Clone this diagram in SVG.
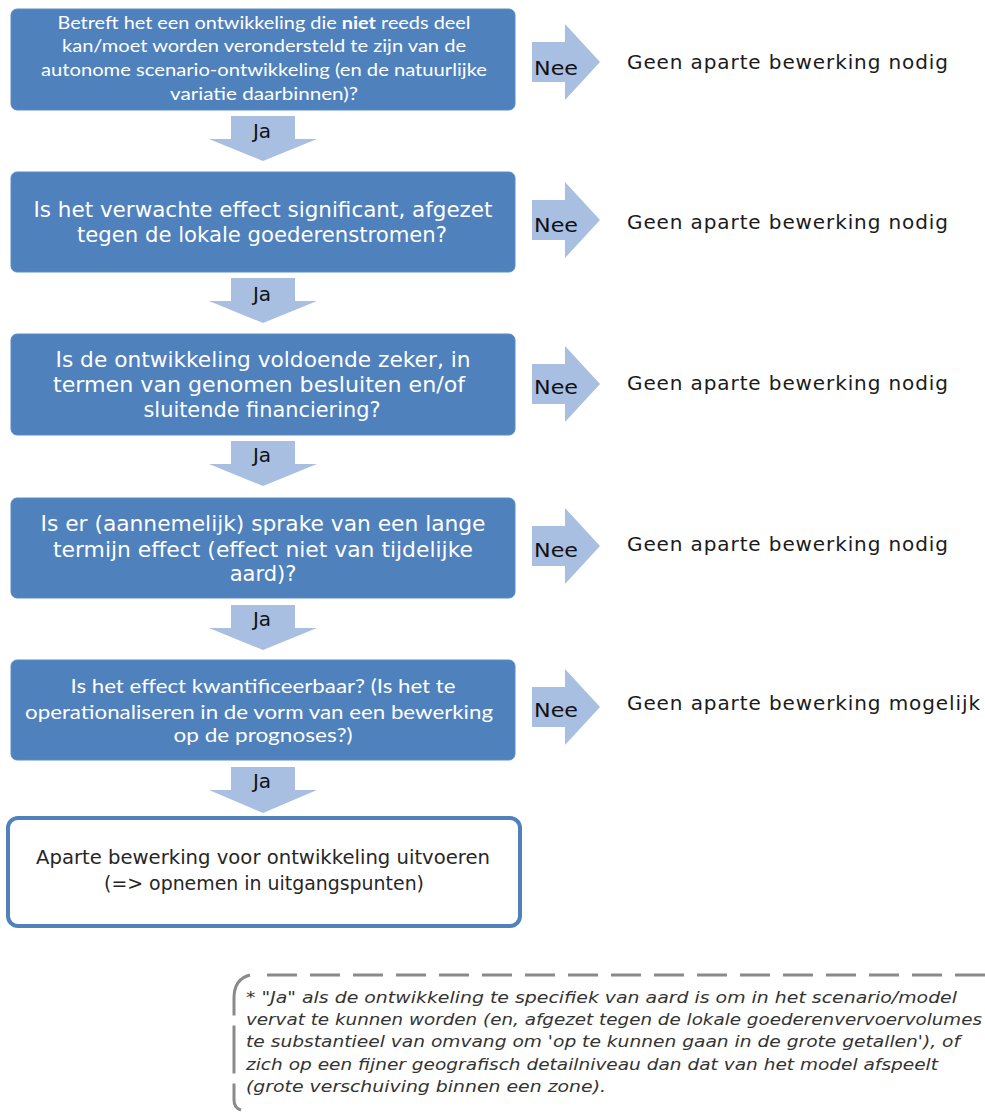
<svg xmlns="http://www.w3.org/2000/svg" width="985" height="1113" viewBox="0 0 985 1113">
<style>
.box{fill:#4f81bd;stroke:#5b8cc6;stroke-width:1}
.bt{font-family:"DejaVu Sans",Verdana,sans-serif;font-size:21px;fill:#ffffff;text-anchor:middle}
.bc{font-family:Lato,"DejaVu Sans",sans-serif;fill:#ffffff;text-anchor:middle}
.arr{fill:#a8bfe1}
.lbl{font-family:"DejaVu Sans",Verdana,sans-serif;font-size:20px;fill:#111}
.res{font-family:"DejaVu Sans",Verdana,sans-serif;font-size:20px;fill:#1a1a1a}
.fin{fill:#ffffff;stroke:#4f81bd;stroke-width:4}
.ft{font-family:"DejaVu Sans",Verdana,sans-serif;font-size:19.5px;fill:#262626;text-anchor:middle}
.note{font-family:"DejaVu Sans",Verdana,sans-serif;font-style:italic;font-size:16.5px;fill:#333}
</style>
<rect width="985" height="1113" fill="#ffffff"/>
<g id="q1">
<rect class="box" x="11" y="9" width="504" height="101" rx="6"/>
<text class="bc" font-size="17"><tspan x="264" y="29" textLength="413" lengthAdjust="spacingAndGlyphs">Betreft het een ontwikkeling die <tspan font-weight="bold">niet</tspan> reeds deel</tspan><tspan x="264" y="52" textLength="404" lengthAdjust="spacingAndGlyphs">kan/moet worden verondersteld te zijn van de</tspan><tspan x="264" y="76" textLength="446" lengthAdjust="spacingAndGlyphs">autonome scenario-ontwikkeling (en de natuurlijke</tspan><tspan x="264" y="100" textLength="188" lengthAdjust="spacingAndGlyphs">variatie daarbinnen)?</tspan></text>
</g>
<g id="q2">
<rect class="box" x="11" y="172" width="504" height="100" rx="6"/>
<text class="bt"><tspan x="263" y="217" textLength="459" lengthAdjust="spacingAndGlyphs">Is het verwachte effect significant, afgezet</tspan><tspan x="262" y="242" textLength="370" lengthAdjust="spacingAndGlyphs">tegen de lokale goederenstromen?</tspan></text>
</g>
<g id="q3">
<rect class="box" x="11" y="334" width="504" height="101" rx="6"/>
<text class="bt"><tspan x="263" y="367" textLength="415" lengthAdjust="spacingAndGlyphs">Is de ontwikkeling voldoende zeker, in</tspan><tspan x="259" y="392" textLength="412" lengthAdjust="spacingAndGlyphs">termen van genomen besluiten en/of</tspan><tspan x="262" y="417" textLength="237" lengthAdjust="spacingAndGlyphs">sluitende financiering?</tspan></text>
</g>
<g id="q4">
<rect class="box" x="11" y="498" width="504" height="100" rx="6"/>
<text class="bt"><tspan x="263" y="531" textLength="445" lengthAdjust="spacingAndGlyphs">Is er (aannemelijk) sprake van een lange</tspan><tspan x="263" y="557" textLength="420" lengthAdjust="spacingAndGlyphs">termijn effect (effect niet van tijdelijke</tspan><tspan x="263" y="581">aard)?</tspan></text>
</g>
<g id="q5">
<rect class="box" x="11" y="660" width="504" height="100" rx="6"/>
<text class="bc" font-size="20"><tspan x="263" y="693" textLength="385" lengthAdjust="spacingAndGlyphs">Is het effect kwantificeerbaar? (Is het te</tspan><tspan x="259" y="719" textLength="468" lengthAdjust="spacingAndGlyphs">operationaliseren in de vorm van een bewerking</tspan><tspan x="263" y="742" textLength="179" lengthAdjust="spacingAndGlyphs">op de prognoses?)</tspan></text>
</g>
<g id="final">
<rect class="fin" x="8" y="818" width="512" height="108" rx="10"/>
<text class="ft"><tspan x="263" y="864" textLength="454" lengthAdjust="spacingAndGlyphs">Aparte bewerking voor ontwikkeling uitvoeren</tspan><tspan x="264" y="890" textLength="320" lengthAdjust="spacingAndGlyphs">(=&gt; opnemen in uitgangspunten)</tspan></text>
</g>
<g id="r1"><text class="res" x="627" y="69" textLength="321" lengthAdjust="spacing">Geen aparte bewerking nodig</text></g>
<g id="r2"><text class="res" x="627" y="229" textLength="321" lengthAdjust="spacing">Geen aparte bewerking nodig</text></g>
<g id="r3"><text class="res" x="627" y="390" textLength="321" lengthAdjust="spacing">Geen aparte bewerking nodig</text></g>
<g id="r4"><text class="res" x="627" y="551" textLength="321" lengthAdjust="spacing">Geen aparte bewerking nodig</text></g>
<g id="r5"><text class="res" x="627" y="710" textLength="353" lengthAdjust="spacing">Geen aparte bewerking mogelijk</text></g>
<g id="connectors">
<g id="nee-arrows">
<path class="arr" d="M532 42 H565 V24 L600 62 L565 100 V82 H532 Z"/>
<path class="arr" d="M532 200 H565 V182 L600 220 L565 258 V240 H532 Z"/>
<path class="arr" d="M532 364 H565 V346 L600 384 L565 422 V404 H532 Z"/>
<path class="arr" d="M532 526 H565 V508 L600 546 L565 584 V566 H532 Z"/>
<path class="arr" d="M532 687 H565 V669 L600 707 L565 745 V727 H532 Z"/>
<text class="lbl" x="534" y="75" textLength="44" lengthAdjust="spacingAndGlyphs">Nee</text>
<text class="lbl" x="534" y="232" textLength="44" lengthAdjust="spacingAndGlyphs">Nee</text>
<text class="lbl" x="534" y="394" textLength="44" lengthAdjust="spacingAndGlyphs">Nee</text>
<text class="lbl" x="534" y="557" textLength="44" lengthAdjust="spacingAndGlyphs">Nee</text>
<text class="lbl" x="534" y="717" textLength="44" lengthAdjust="spacingAndGlyphs">Nee</text>
</g>
<g id="ja-arrows">
<path class="arr" d="M231 116 H295 V139 H317 L263 161 L209 139 H231 Z"/>
<path class="arr" d="M231 278 H295 V301 H317 L263 323 L209 301 H231 Z"/>
<path class="arr" d="M231 441 H295 V464 H317 L263 486 L209 464 H231 Z"/>
<path class="arr" d="M231 605 H295 V628 H317 L263 650 L209 628 H231 Z"/>
<path class="arr" d="M231 767 H295 V790 H317 L263 813 L209 790 H231 Z"/>
<text class="lbl" x="262" y="138" text-anchor="middle">Ja</text>
<text class="lbl" x="262" y="301" text-anchor="middle">Ja</text>
<text class="lbl" x="262" y="462" text-anchor="middle">Ja</text>
<text class="lbl" x="262" y="626" text-anchor="middle">Ja</text>
<text class="lbl" x="262" y="788" text-anchor="middle">Ja</text>
</g>
</g>
<g id="footnote">
<path d="M985 975 H260" fill="none" stroke="#8a8a8a" stroke-width="3" stroke-dasharray="30 13"/>
<path d="M250 975 Q234 979 234 998 V1100 Q234 1108 241 1110" fill="none" stroke="#8a8a8a" stroke-width="3" stroke-dasharray="48 10"/>
<text class="note"><tspan x="246" y="1003" textLength="711" lengthAdjust="spacingAndGlyphs">* "Ja" als de ontwikkeling te specifiek van  aard is om in het scenario/model</tspan><tspan x="246" y="1025" textLength="736" lengthAdjust="spacingAndGlyphs">vervat  te kunnen  worden (en, afgezet  tegen de lokale goederenvervoervolumes</tspan><tspan x="246" y="1047" textLength="714" lengthAdjust="spacingAndGlyphs">te substantieel van  omvang om 'op te kunnen gaan  in de grote getallen'), of</tspan><tspan x="246" y="1070" textLength="692" lengthAdjust="spacingAndGlyphs">zich op een  fijner geografisch  detailniveau dan dat van het model afspeelt</tspan><tspan x="246" y="1092" textLength="360" lengthAdjust="spacingAndGlyphs">(grote verschuiving binnen een  zone).</tspan></text>
</g>
</svg>
